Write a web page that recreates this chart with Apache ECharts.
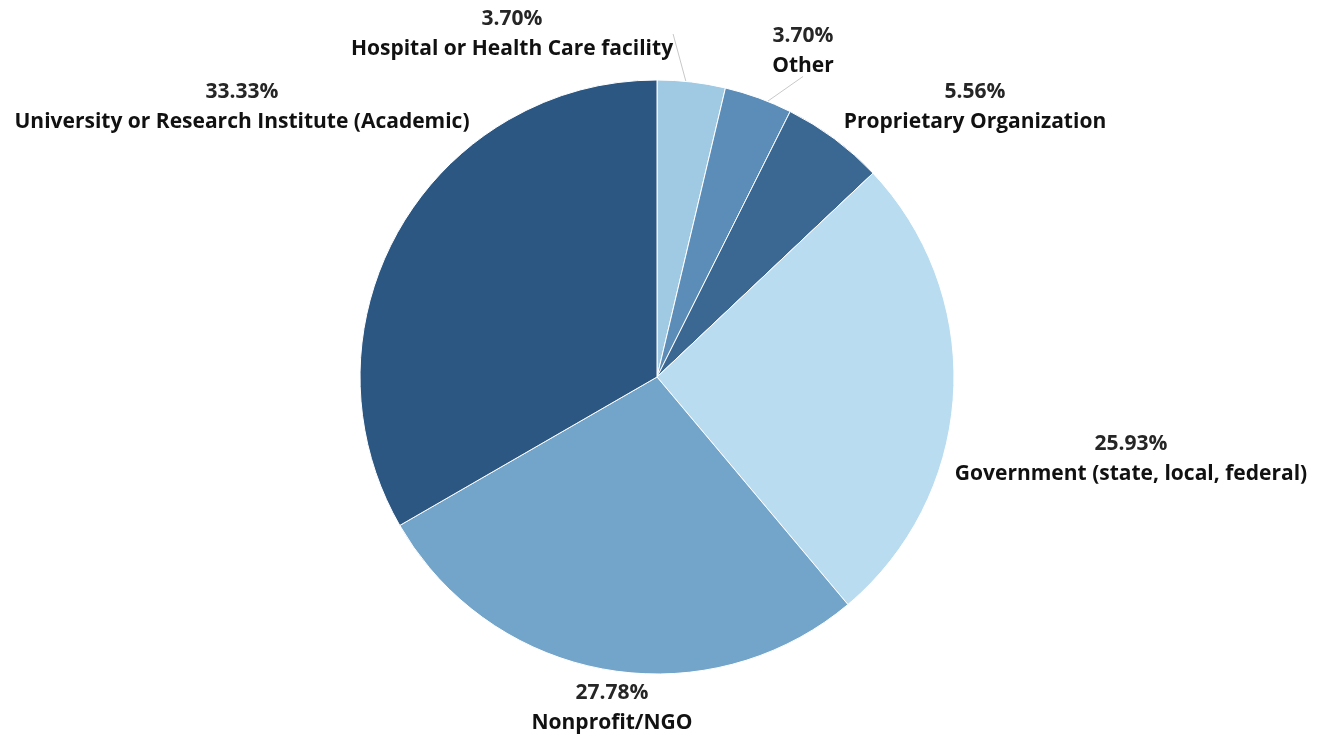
<!DOCTYPE html>
<html><head><meta charset="utf-8">
<script src="https://cdn.jsdelivr.net/npm/echarts@6/dist/echarts.min.js"></script>
<style>html,body{margin:0;padding:0;background:#fff}#c{width:1329px;height:740px}</style>
</head><body><div id="c"></div>
<script>
var categories = ['Hospital or Health Care facility','Other','Proprietary Organization','Government (state, local, federal)','Nonprofit/NGO','University or Research Institute (Academic)'];
var shares = [3.70, 3.70, 5.56, 25.93, 27.78, 33.33];
var colors = ['#a0c9e4','#5b8db8','#3a6893','#badcf0','#73a4ca','#2c5782'];
// label anchor positions (centre of text block), pixels
var labelPos = [[512,34],[803,51],[975,107],[1131,459],[612,708],[242,107]];
var showLine = [true,true,false,false,false,false];

var CX = 657, CY = 377, R = 297;
var chart = echarts.init(document.getElementById('c'));
var data = categories.map(function(c,i){return {name:c,value:shares[i],itemStyle:{color:colors[i]}};});
var overlay = categories.map(function(c,i){return {name:c,value:shares[i],labelLine:{show:showLine[i]}};});
var fnt = 'Open Sans';
chart.setOption({
  animation:false,
  series:[{
    type:'pie', center:[CX,CY], radius:R, startAngle:90, clockwise:true,
    data:data, silent:true,
    itemStyle:{borderColor:'#fff',borderWidth:1},
    label:{show:false}, labelLine:{show:false}
  },{
    type:'pie', center:[CX,CY], radius:R-14, startAngle:90, clockwise:true,
    data:overlay, silent:true,
    itemStyle:{color:'rgba(0,0,0,0)'},
    label:{show:true, position:'outside', overflow:'none',
      formatter:function(p){return '{p|'+p.value.toFixed(2)+'%}\n{n|'+p.name+'}';},
      rich:{p:{fontFamily:fnt,fontSize:21,fontWeight:'bold',color:'#262626',lineHeight:30,align:'center'},
            n:{fontFamily:fnt,fontSize:21,fontWeight:'bold',color:'#111',lineHeight:30,align:'center'}}
    },
    labelLine:{show:false, lineStyle:{color:'#c8c8c8',width:1}, length:10, length2:0},
    labelLayout:function(params){
      var pos = labelPos[params.dataIndex];
      return {x:pos[0], y:pos[1], align:'center', verticalAlign:'middle', width:700};
    }
  }]
});
</script></body></html>
